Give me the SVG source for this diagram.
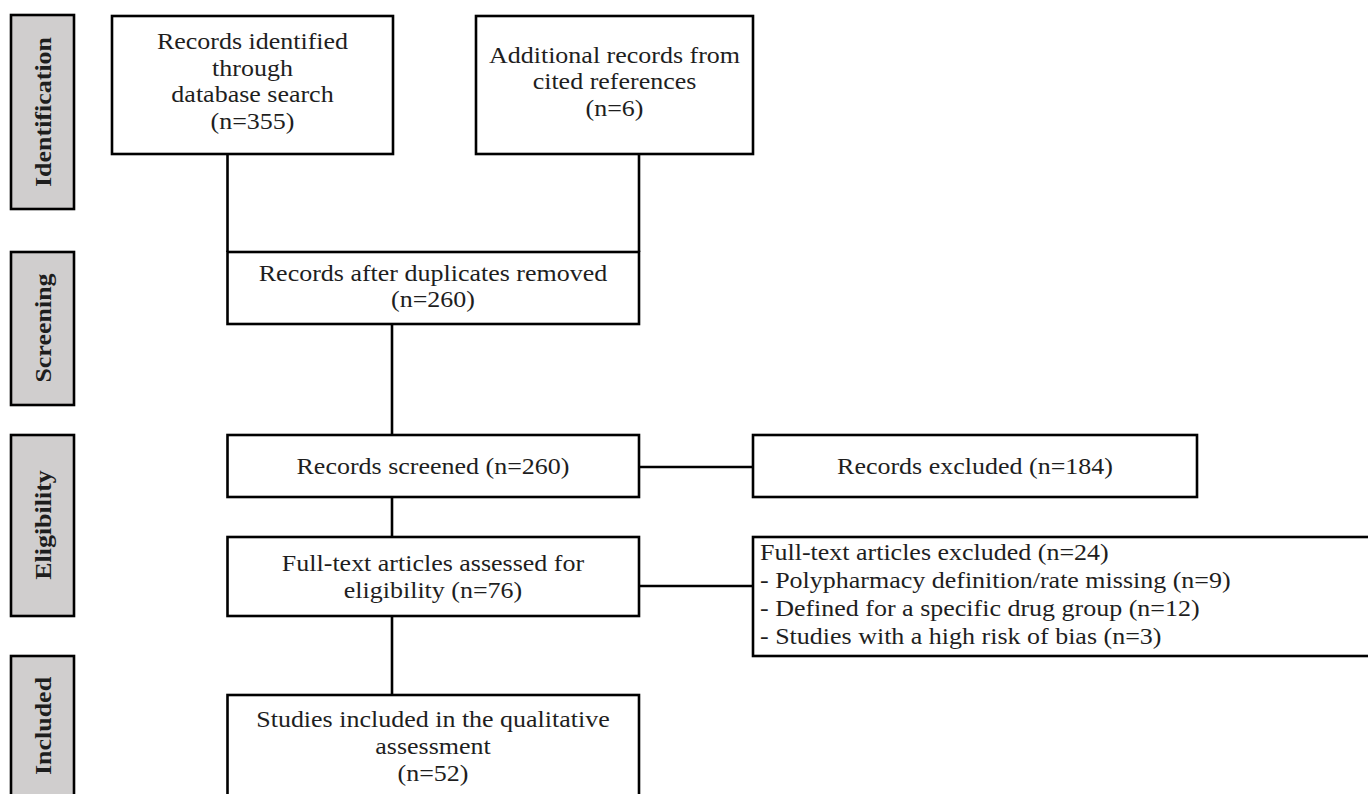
<svg xmlns="http://www.w3.org/2000/svg" width="1368" height="794" viewBox="0 0 1368 794">
<style>
.box{fill:#fff;stroke:#000;stroke-width:2.6}
.lab{fill:#d0cece;stroke:#000;stroke-width:2.6}
.t{font-family:"Liberation Serif","DejaVu Serif",serif;font-size:23px;fill:#1e1e1e;text-anchor:middle}
.tl{font-family:"Liberation Serif","DejaVu Serif",serif;font-size:23px;fill:#1e1e1e}
.lt{font-family:"Liberation Serif","DejaVu Serif",serif;font-size:23px;font-weight:bold;fill:#1e1e1e;text-anchor:middle}
.c{stroke:#000;stroke-width:2.6;fill:none}
</style>
<rect width="1368" height="794" fill="#fff"/>
<g id="connectors">
<line class="c" x1="227.5" y1="154" x2="227.5" y2="252"/>
<line class="c" x1="639" y1="154" x2="639" y2="252"/>
<line class="c" x1="392" y1="324" x2="392" y2="435"/>
<line class="c" x1="639" y1="467" x2="753" y2="467"/>
<line class="c" x1="392" y1="497" x2="392" y2="537"/>
<line class="c" x1="639" y1="586" x2="753" y2="586"/>
<line class="c" x1="392" y1="616" x2="392" y2="695"/>
</g>
<g id="label-identification">
<rect class="lab" x="11" y="15" width="63" height="194"/>
<text class="lt" transform="translate(51,112) rotate(-90) scale(1.13,1)">Identification</text>
</g>
<g id="label-screening">
<rect class="lab" x="11" y="252" width="63" height="153"/>
<text class="lt" transform="translate(51,328) rotate(-90) scale(1.13,1)">Screening</text>
</g>
<g id="label-eligibility">
<rect class="lab" x="11" y="435" width="63" height="181"/>
<text class="lt" transform="translate(51,525) rotate(-90) scale(1.13,1)">Eligibility</text>
</g>
<g id="label-included">
<rect class="lab" x="11" y="656" width="63" height="150"/>
<text class="lt" transform="translate(51,726) rotate(-90) scale(1.13,1)">Included</text>
</g>
<g id="node-database">
<rect class="box" x="112" y="16" width="281" height="138"/>
<text class="t" transform="translate(252.5,0) scale(1.13,1)" y="49">Records identified</text>
<text class="t" transform="translate(252.5,0) scale(1.13,1)" y="76">through</text>
<text class="t" transform="translate(252.5,0) scale(1.13,1)" y="102.5">database search</text>
<text class="t" transform="translate(252.5,0) scale(1.13,1)" y="129">(n=355)</text>
</g>
<g id="node-additional">
<rect class="box" x="476" y="16" width="277" height="138"/>
<text class="t" transform="translate(614.5,0) scale(1.13,1)" y="63">Additional records from</text>
<text class="t" transform="translate(614.5,0) scale(1.13,1)" y="89.5">cited references</text>
<text class="t" transform="translate(614.5,0) scale(1.13,1)" y="116">(n=6)</text>
</g>
<g id="node-duplicates">
<rect class="box" x="227.5" y="252" width="411.5" height="72"/>
<text class="t" transform="translate(433,0) scale(1.13,1)" y="281">Records after duplicates removed</text>
<text class="t" transform="translate(433,0) scale(1.13,1)" y="307">(n=260)</text>
</g>
<g id="node-screened">
<rect class="box" x="227.5" y="435" width="411.5" height="62"/>
<text class="t" transform="translate(433,0) scale(1.13,1)" y="474">Records screened (n=260)</text>
</g>
<g id="node-excluded">
<rect class="box" x="753" y="435" width="444" height="62"/>
<text class="t" transform="translate(975,0) scale(1.13,1)" y="474">Records excluded (n=184)</text>
</g>
<g id="node-fulltext">
<rect class="box" x="227.5" y="537" width="411.5" height="79"/>
<text class="t" transform="translate(433,0) scale(1.13,1)" y="571">Full-text articles assessed for</text>
<text class="t" transform="translate(433,0) scale(1.13,1)" y="598">eligibility (n=76)</text>
</g>
<g id="node-fulltext-excluded">
<rect class="box" x="753" y="537" width="630" height="119"/>
<text class="tl" transform="translate(760,0) scale(1.13,1)" y="560">Full-text articles excluded (n=24)</text>
<text class="tl" transform="translate(760,0) scale(1.13,1)" y="588">- Polypharmacy definition/rate missing (n=9)</text>
<text class="tl" transform="translate(760,0) scale(1.13,1)" y="616">- Defined for a specific drug group (n=12)</text>
<text class="tl" transform="translate(760,0) scale(1.13,1)" y="644">- Studies with a high risk of bias (n=3)</text>
</g>
<g id="node-included">
<rect class="box" x="227.5" y="695" width="411.5" height="110"/>
<text class="t" transform="translate(433,0) scale(1.13,1)" y="727">Studies included in the qualitative</text>
<text class="t" transform="translate(433,0) scale(1.13,1)" y="754">assessment</text>
<text class="t" transform="translate(433,0) scale(1.13,1)" y="781">(n=52)</text>
</g>
</svg>
